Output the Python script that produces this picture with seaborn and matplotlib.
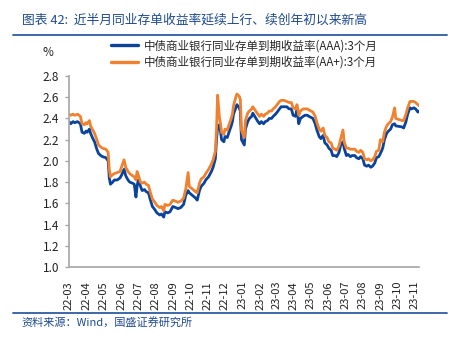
import matplotlib
matplotlib.use("Agg")
import matplotlib.pyplot as plt
import matplotlib.dates as mdates
import pandas as pd
import seaborn as sns

dates = [
    "2022-03-01", "2022-03-04", "2022-03-08", "2022-03-11", "2022-03-16", "2022-03-21",
    "2022-03-24", "2022-03-28", "2022-03-31", "2022-04-02", "2022-04-06", "2022-04-08",
    "2022-04-12", "2022-04-15", "2022-04-19", "2022-04-22", "2022-04-26", "2022-04-29",
    "2022-05-05", "2022-05-09", "2022-05-11", "2022-05-13", "2022-05-17", "2022-05-20",
    "2022-05-25", "2022-05-30", "2022-06-02", "2022-06-06", "2022-06-09", "2022-06-13",
    "2022-06-16", "2022-06-21", "2022-06-24", "2022-06-27", "2022-06-29", "2022-07-01",
    "2022-07-05", "2022-07-08", "2022-07-12", "2022-07-15", "2022-07-19", "2022-07-22",
    "2022-07-26", "2022-07-29", "2022-08-03", "2022-08-08", "2022-08-11", "2022-08-15",
    "2022-08-17", "2022-08-22", "2022-08-26", "2022-08-31", "2022-09-05", "2022-09-09",
    "2022-09-14", "2022-09-19", "2022-09-23", "2022-09-27", "2022-09-29", "2022-10-10",
    "2022-10-13", "2022-10-17", "2022-10-20", "2022-10-25", "2022-10-28", "2022-11-02",
    "2022-11-07", "2022-11-10", "2022-11-14", "2022-11-16", "2022-11-18", "2022-11-21",
    "2022-11-23", "2022-11-25", "2022-11-29", "2022-12-01", "2022-12-05", "2022-12-08",
    "2022-12-12", "2022-12-14", "2022-12-16", "2022-12-20", "2022-12-22", "2022-12-26",
    "2022-12-28", "2022-12-30", "2023-01-04", "2023-01-06", "2023-01-10", "2023-01-13",
    "2023-01-17", "2023-01-19", "2023-01-28", "2023-01-31", "2023-02-03", "2023-02-07",
    "2023-02-10", "2023-02-14", "2023-02-17", "2023-02-21", "2023-02-24", "2023-02-28",
    "2023-03-03", "2023-03-07", "2023-03-10", "2023-03-15", "2023-03-20", "2023-03-24",
    "2023-03-28", "2023-03-31", "2023-04-04", "2023-04-07", "2023-04-10", "2023-04-13",
    "2023-04-18", "2023-04-21", "2023-04-25", "2023-04-28", "2023-05-05", "2023-05-09",
    "2023-05-12", "2023-05-16", "2023-05-19", "2023-05-23", "2023-05-26", "2023-05-30",
    "2023-06-02", "2023-06-06", "2023-06-09", "2023-06-13", "2023-06-16", "2023-06-20",
    "2023-06-23", "2023-06-27", "2023-06-29", "2023-07-03", "2023-07-06", "2023-07-10",
    "2023-07-13", "2023-07-18", "2023-07-21", "2023-07-25", "2023-07-28", "2023-08-01",
    "2023-08-04", "2023-08-08", "2023-08-11", "2023-08-15", "2023-08-18", "2023-08-22",
    "2023-08-25", "2023-08-29", "2023-09-01", "2023-09-05", "2023-09-08", "2023-09-12",
    "2023-09-15", "2023-09-19", "2023-09-22", "2023-09-26", "2023-09-28", "2023-10-09",
    "2023-10-12", "2023-10-16", "2023-10-19", "2023-10-23", "2023-10-26", "2023-10-30",
    "2023-11-02", "2023-11-06", "2023-11-08",
]

yield_aaa = [
    2.37, 2.35, 2.37, 2.36, 2.37, 2.35,
    2.27, 2.26, 2.28, 2.27, 2.30, 2.26,
    2.21, 2.18, 2.11, 2.07, 2.05, 2.04,
    2.03, 2.00, 1.84, 1.78, 1.80, 1.82,
    1.82, 1.84, 1.87, 1.92, 1.86, 1.82,
    1.80, 1.79, 1.78, 1.66, 1.76, 1.82,
    1.76, 1.72, 1.73, 1.71, 1.70, 1.64,
    1.57, 1.55, 1.51, 1.49, 1.50, 1.47,
    1.52, 1.51, 1.52, 1.57, 1.56, 1.55,
    1.56, 1.59, 1.68, 1.72, 1.70, 1.65,
    1.63, 1.72, 1.76, 1.79, 1.82, 1.85,
    1.90, 1.94, 2.02, 2.20, 2.32, 2.34,
    2.28, 2.20, 2.18, 2.23, 2.22, 2.27,
    2.33, 2.37, 2.44, 2.50, 2.53, 2.50,
    2.47, 2.20, 2.15, 2.30, 2.37, 2.40,
    2.42, 2.45, 2.37, 2.35, 2.37, 2.35,
    2.37, 2.38, 2.40, 2.40, 2.42, 2.44,
    2.46, 2.49, 2.51, 2.51, 2.51, 2.49,
    2.49, 2.43, 2.42, 2.48, 2.35, 2.40,
    2.42, 2.43, 2.43, 2.42, 2.40, 2.35,
    2.29, 2.23, 2.21, 2.24, 2.17, 2.15,
    2.12, 2.10, 2.05, 2.05, 2.04, 2.08,
    2.15, 2.18, 2.12, 2.05, 2.06, 2.04,
    2.05, 2.05, 2.03, 2.02, 2.04, 2.02,
    1.96, 1.95, 1.96, 1.94, 1.95, 1.98,
    2.03, 2.04, 2.07, 2.12, 2.20, 2.26,
    2.28, 2.30, 2.34, 2.35, 2.33, 2.32,
    2.31, 2.37, 2.44, 2.50, 2.49, 2.50,
    2.49, 2.46, 2.47,
]

yield_aa_plus = [
    2.44, 2.43, 2.44, 2.43, 2.44, 2.42,
    2.35, 2.34, 2.36, 2.35, 2.38, 2.33,
    2.29, 2.26, 2.20, 2.15, 2.13, 2.12,
    2.11, 2.08, 1.92, 1.85, 1.87, 1.88,
    1.89, 1.90, 1.95, 2.01, 1.94, 1.90,
    1.88, 1.86, 1.85, 1.82, 1.90, 1.87,
    1.80, 1.79, 1.80, 1.78, 1.77, 1.71,
    1.64, 1.62, 1.58, 1.56, 1.57, 1.53,
    1.59, 1.58, 1.59, 1.63, 1.62, 1.61,
    1.62, 1.65, 1.74, 1.89, 1.76, 1.71,
    1.70, 1.79, 1.83, 1.85, 1.88, 1.92,
    1.97, 2.01, 2.09, 2.30, 2.62, 2.42,
    2.35, 2.27, 2.25, 2.30, 2.29, 2.34,
    2.40, 2.44, 2.52, 2.60, 2.63, 2.61,
    2.58, 2.29, 2.22, 2.38, 2.45, 2.47,
    2.49, 2.51, 2.44, 2.42, 2.44, 2.42,
    2.44, 2.45, 2.47, 2.47, 2.49, 2.51,
    2.53, 2.56, 2.57, 2.57, 2.56, 2.55,
    2.55, 2.50, 2.49, 2.53, 2.43, 2.47,
    2.49, 2.49, 2.49, 2.48, 2.46, 2.42,
    2.36, 2.30, 2.28, 2.31, 2.24, 2.22,
    2.18, 2.17, 2.12, 2.11, 2.10, 2.14,
    2.21, 2.29, 2.18, 2.12, 2.12, 2.11,
    2.11, 2.11, 2.09, 2.08, 2.10, 2.08,
    2.02, 2.01, 2.02, 2.00, 2.01, 2.04,
    2.09, 2.10, 2.20, 2.18, 2.27, 2.33,
    2.35, 2.37, 2.41, 2.50, 2.40, 2.38,
    2.38, 2.44, 2.50, 2.56, 2.56, 2.56,
    2.55, 2.53, 2.52,
]

series_names = [
    "中债商业银行同业存单到期收益率(AAA):3个月",
    "中债商业银行同业存单到期收益率(AA+):3个月",
]
series_colors = ["#0A439B", "#F0812F"]

title_text = "图表 42:  近半月同业存单收益率延续上行、续创年初以来新高"
source_text = "资料来源：Wind，国盛证券研究所"
y_ticks = [1.0, 1.2, 1.4, 1.6, 1.8, 2.0, 2.2, 2.4, 2.6, 2.8]

df = pd.DataFrame({
    "date": pd.to_datetime(dates * 2),
    "value": yield_aaa + yield_aa_plus,
    "series": [series_names[0]] * len(dates) + [series_names[1]] * len(dates),
})

sns.set_theme(style="white")
plt.rcParams["font.family"] = ["Noto Sans CJK SC", "DejaVu Sans"]

fig = plt.figure(figsize=(4.52, 3.40), dpi=100)
ax = fig.add_axes([0.1527, 0.2147, 0.7743, 0.5618])

sns.lineplot(data=df, x="date", y="value", hue="series",
             palette=dict(zip(series_names, series_colors)),
             linewidth=2.0, ax=ax, legend=False)

ax.set_ylim(1.0, 2.8)
ax.set_yticks(y_ticks)
ax.set_yticklabels([f"{v:.1f}" for v in y_ticks], fontsize=8.5, color="#222222")
ax.set_xlim(pd.Timestamp(dates[0]), pd.Timestamp(dates[-1]))
ax.xaxis.set_major_locator(mdates.MonthLocator())
ax.xaxis.set_major_formatter(mdates.DateFormatter("%y-%m"))
for lbl in ax.get_xticklabels():
    lbl.set_rotation(90)
    lbl.set_fontsize(8)
    lbl.set_color("#222222")
ax.set_xlabel("")
ax.set_ylabel("")

for side in ("top", "right"):
    ax.spines[side].set_visible(False)
for side in ("left", "bottom"):
    ax.spines[side].set_color("#A6A6A6")
    ax.spines[side].set_linewidth(1.2)
ax.tick_params(axis="y", which="major", left=True, length=3, width=1,
               color="#A6A6A6", pad=4)
ax.tick_params(axis="x", which="major", bottom=False, pad=4)

# legend above the plot area
handles = [plt.Line2D([], [], color=c, linewidth=2.4) for c in series_colors]
fig.legend(handles, series_names, loc="upper left", bbox_to_anchor=(0.245, 0.885),
           frameon=False, fontsize=8.3, handlelength=2.4, handletextpad=0.5,
           labelspacing=0.3, borderaxespad=0, borderpad=0)

fig.text(0.106, 0.846, "%", fontsize=8.5, ha="center", va="center", color="#222222")

# header and footer
fig.text(0.048, 0.94, title_text, fontsize=9.2, color="#1F4A8F",
         ha="left", va="center", style="italic")
fig.add_artist(plt.Line2D([0.028, 0.99], [0.897, 0.897], transform=fig.transFigure,
                          color="#2E5CA0", linewidth=1.3))
fig.add_artist(plt.Line2D([0.028, 0.99], [0.079, 0.079], transform=fig.transFigure,
                          color="#2E5CA0", linewidth=1.3))
fig.text(0.048, 0.052, source_text, fontsize=8, color="#1F4A8F",
         ha="left", va="center", style="italic")

fig.savefig("out.png", dpi=100)
